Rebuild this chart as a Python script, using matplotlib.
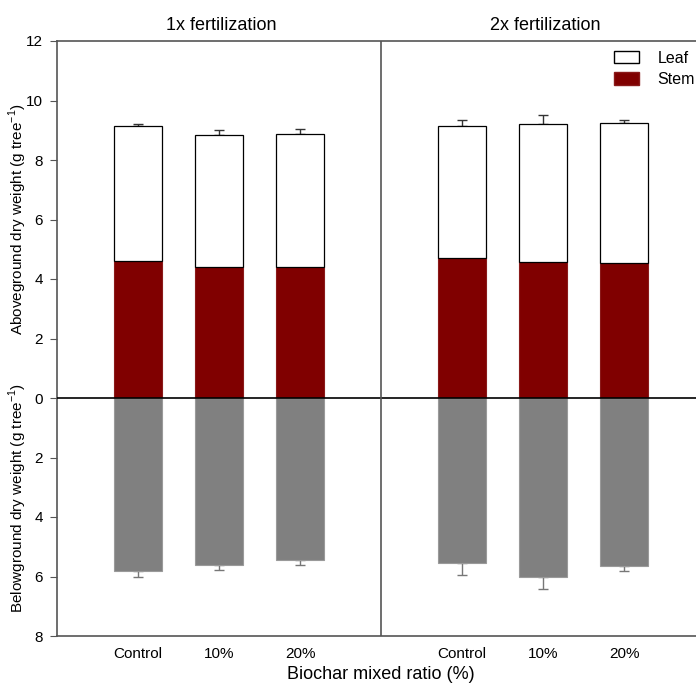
import numpy as np
import matplotlib.pyplot as plt
from matplotlib.patches import Patch

plt.rcParams['font.family'] = ['Liberation Sans', 'DejaVu Sans']

groups = ['1x fertilization', '2x fertilization']
ratios = ['Control', '10%', '20%']
# aboveground (g tree-1), order: 1x Control,10%,20%, 2x Control,10%,20%
stem = [4.62, 4.42, 4.40, 4.70, 4.57, 4.54]
stem_err = [0.03, 0.10, 0.08, 0.14, 0.21, 0.04]
total = [9.15, 8.85, 8.87, 9.15, 9.22, 9.24]
leaf_err = [0.05, 0.15, 0.16, 0.21, 0.28, 0.09]
leaf = [t - s for t, s in zip(total, stem)]
# belowground
below = [5.82, 5.60, 5.45, 5.55, 6.00, 5.65]
below_err = [0.18, 0.17, 0.16, 0.40, 0.43, 0.15]

x = np.array([1, 2, 3, 5, 6, 7])
w = 0.6
spine_c = '#555555'

fig = plt.figure(figsize=(6.96, 6.83), dpi=100)
ax = fig.add_axes([57 / 696, 1 - 636 / 683, 648 / 696, 595 / 683])

ax.bar(x, stem, w, color='#800000', edgecolor='#8a1a1a', linewidth=0.8, zorder=2)
ax.bar(x, leaf, w, bottom=stem, color='white', edgecolor='black', linewidth=0.9, zorder=2)
ax.bar(x, [-b for b in below], w, color='#808080', edgecolor='#9a9a9a', linewidth=0.8, zorder=2)

ax.errorbar(x, stem, yerr=[np.zeros(6), stem_err], fmt='none', ecolor='#8b0000',
            elinewidth=1, capsize=3.5, capthick=1, zorder=1)
ax.errorbar(x, total, yerr=[np.zeros(6), leaf_err], fmt='none', ecolor='#333333',
            elinewidth=1, capsize=3.5, capthick=1, zorder=1)
ax.errorbar(x, [-b for b in below], yerr=[below_err, np.zeros(6)], fmt='none',
            ecolor='#777777', elinewidth=1, capsize=3.5, capthick=1, zorder=1)

ax.axhline(0, color='black', lw=1.2, zorder=3)
ax.axvline(4, color=spine_c, lw=1.2, zorder=3)

ax.set_xlim(0, 8)
ax.set_ylim(-8, 12)
yt = np.arange(-8, 13, 2)
ax.set_yticks(yt)
ax.set_yticklabels([str(abs(v)) for v in yt], fontsize=11)
ax.tick_params(axis='y', direction='out', length=5, color=spine_c, pad=5)
ax.set_xticks(x)
ax.set_xticklabels(ratios * 2, fontsize=11)
ax.tick_params(axis='x', length=0, pad=8)
for s in ax.spines.values():
    s.set_color(spine_c)
    s.set_linewidth(1.2)

for i, g in enumerate(groups):
    ax.text(2 + 4 * i + 0.03, 12.25, g, ha='center', va='bottom', fontsize=13)

ax.text(-0.48, 6, 'Aboveground dry weight (g tree$^{\\mathregular{-1}}$)', rotation=90,
        ha='center', va='center', fontsize=11)
ax.text(-0.48, -3.35, 'Belowground dry weight (g tree$^{\\mathregular{-1}}$)', rotation=90,
        ha='center', va='center', fontsize=11)
ax.set_xlabel('Biochar mixed ratio (%)', fontsize=13, labelpad=4)
ax.xaxis.set_label_coords(4 / 8, -0.05)

handles = [Patch(facecolor='white', edgecolor='black', label='Leaf'),
           Patch(facecolor='#800000', edgecolor='#8a1a1a', label='Stem')]
fig.legend(handles=handles, loc='upper left', bbox_to_anchor=(612 / 696, 1 - 49 / 683),
           frameon=False, fontsize=11.5, handlelength=1.6, handleheight=0.8,
           handletextpad=1.15, labelspacing=0.4, borderaxespad=0, borderpad=0.1)

fig.savefig('out.png', dpi=100)
